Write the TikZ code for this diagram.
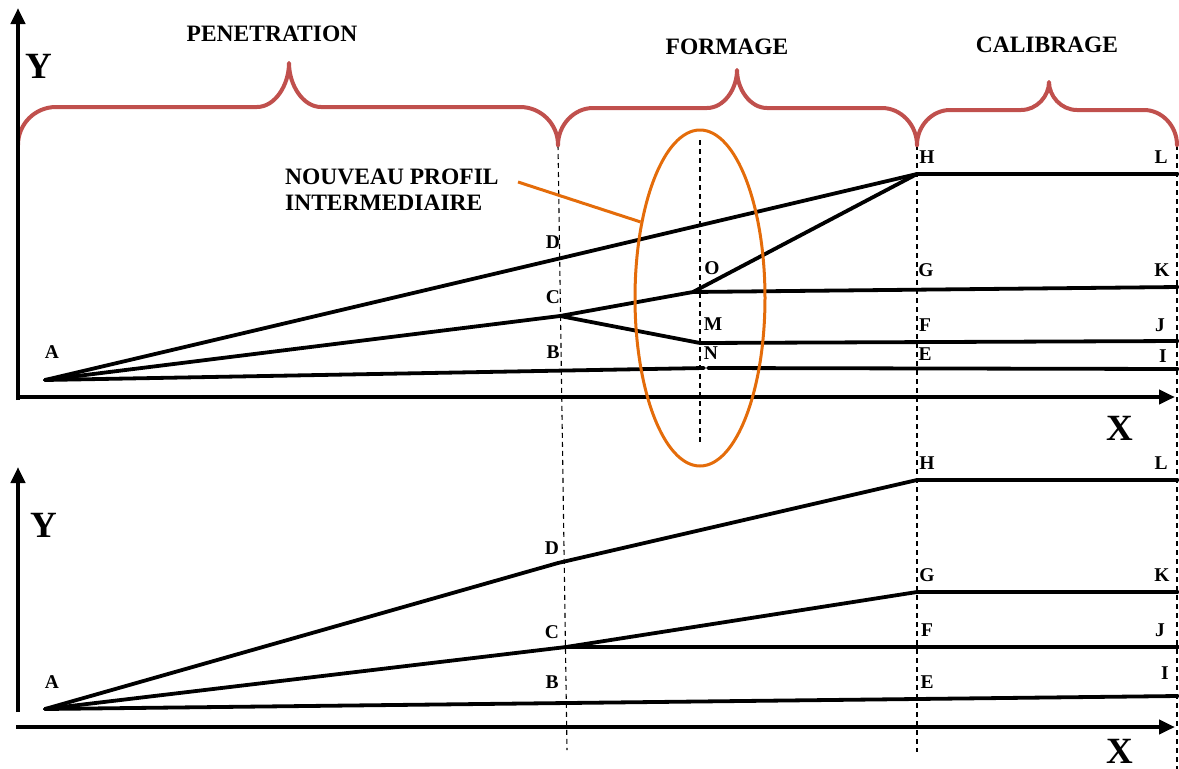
\documentclass[tikz,border=0pt]{standalone}
\usepackage{fontspec}
\setmainfont{Liberation Serif}
\usetikzlibrary{arrows.meta,shapes.geometric}
\definecolor{bracered}{RGB}{192,80,77}
\definecolor{ringorange}{RGB}{228,108,10}
\begin{document}
\begin{tikzpicture}[x=1pt,y=-1pt,
  prof/.style={line width=3.8pt, line join=round, line cap=round},
  axis/.style={line width=4.5pt, -{Triangle[length=16pt,width=14pt]}},
  guide/.style={line width=1.1pt, dash pattern=on 5pt off 4pt},
  brace/.style={line width=4pt, draw=bracered, line cap=round, line join=round},
  ptlab/.style={font=\bfseries\fontsize{19.5}{21}\selectfont, inner sep=0pt},
  ttl/.style={font=\bfseries\fontsize{23.5}{26}\selectfont, inner sep=0pt},
  axlab/.style={font=\bfseries\fontsize{37}{40}\selectfont, inner sep=0pt}]
\useasboundingbox (0,0) rectangle (1179,769);

% ---------- dashed guides ----------
\coordinate (g1t) at (558,145); \coordinate (g1b) at (567,750);
\coordinate (g2t) at (917,145); \coordinate (g2b) at (917,752);
\coordinate (g3t) at (1177,145); \coordinate (g3b) at (1177,769);
\coordinate (g4t) at (700,140); \coordinate (g4b) at (700,442);
\draw[guide] (g1t) -- (g1b);
\draw[guide] (g2t) -- (g2b);
\draw[guide] (g3t) -- (g3b);
\draw[guide] (g4t) -- (g4b);

% ---------- braces ----------
\draw[brace] (18,145) .. controls (18,124) and (35,107) .. (56,107)
  -- (257,107) .. controls (275,107) and (289,85) .. (289,63)
  .. controls (289,85) and (303,107) .. (321,107)
  -- (520,107) .. controls (541,107) and (558,124) .. (558,145);
\draw[brace] (558,145) .. controls (558,125) and (574,108) .. (593,108)
  -- (707,108) .. controls (724,108) and (737,89) .. (737,70)
  .. controls (737,89) and (750,108) .. (767,108)
  -- (882,108) .. controls (901,108) and (917,125) .. (917,145);
\draw[brace] (917,145) .. controls (917,126) and (932,110) .. (950,110)
  -- (1021,110) .. controls (1037,110) and (1049,96) .. (1049,82)
  .. controls (1049,96) and (1061,110) .. (1077,110)
  -- (1144,110) .. controls (1162,110) and (1177,126) .. (1177,145);

\node[ttl] (tpen) at (272,34) {PENETRATION};
\node[ttl] (tfor) at (727,47) {FORMAGE};
\node[ttl] (tcal) at (1047,45) {CALIBRAGE};

% ---------- top panel ----------
\coordinate (ya1) at (18,400); \coordinate (yb1) at (18,8);
\coordinate (xa1) at (16,397); \coordinate (xb1) at (1175,397);
\draw[axis] (ya1) -- (yb1);
\draw[axis] (xa1) -- (xb1);
\node[axlab] (Y1) at (39,66) {Y};
\node[axlab] (X1) at (1120,428) {X};

\coordinate (A1) at (45,380);
\coordinate (H1) at (917,174);
\coordinate (L1) at (1178,174);
\coordinate (C1) at (560,316);
\coordinate (O1) at (693,292);
\coordinate (K1) at (1178,287);
\coordinate (N1) at (700,343);
\coordinate (J1) at (1178,341);
\coordinate (Nb1) at (704,368);
\coordinate (Na1) at (708,368);
\coordinate (I1) at (1178,369);

\draw[prof] (A1) -- (H1) -- (L1);
\draw[prof] (A1) -- (C1) -- (O1) -- (H1);
\draw[prof] (O1) -- (K1);
\draw[prof] (C1) -- (N1) -- (J1);
\draw[prof] (A1) -- (Nb1);
\draw[prof] (Na1) -- (I1);

\node[ptlab] (lA1) at (52,352) {A};
\node[ptlab] (lD1) at (553,242) {D};
\node[ptlab] (lC1) at (553,297) {C};
\node[ptlab] (lB1) at (553,352) {B};
\node[ptlab] (lO1) at (712,268) {O};
\node[ptlab] (lM1) at (713,324) {M};
\node[ptlab] (lN1) at (711,353) {N};
\node[ptlab] (lH1) at (927,157) {H};
\node[ptlab] (lL1) at (1161,157) {L};
\node[ptlab] (lG1) at (926,270) {G};
\node[ptlab] (lK1) at (1162,270) {K};
\node[ptlab] (lF1) at (925,325) {F};
\node[ptlab] (lJ1) at (1160,325) {J};
\node[ptlab] (lE1) at (925,354) {E};
\node[ptlab] (lI1) at (1163,356) {I};

% ---------- ellipse & callout ----------
\node[draw=ringorange, line width=3pt, ellipse, minimum width=130pt, minimum height=336pt, inner sep=0pt] (ring) at (700,298) {};
\node[ttl, anchor=west, align=left] (nouv) at (285,190) {NOUVEAU PROFIL\\INTERMEDIAIRE};
\coordinate (cal) at (518,182);
\draw[ringorange, line width=3pt] (cal) -- (ring.128);

% ---------- bottom panel ----------
\coordinate (ya2) at (18,712); \coordinate (yb2) at (18,467);
\coordinate (xa2) at (16,727); \coordinate (xb2) at (1175,727);
\draw[axis] (ya2) -- (yb2);
\draw[axis] (xa2) -- (xb2);
\node[axlab] (Y2) at (44,525) {Y};
\node[axlab, anchor=base] (X2) at (1120,763) {X};

\coordinate (A2) at (45,709);
\coordinate (D2) at (558,563);
\coordinate (H2) at (917,480);
\coordinate (L2) at (1178,480);
\coordinate (C2) at (566,647);
\coordinate (G2) at (917,592);
\coordinate (K2) at (1178,592);
\coordinate (J2) at (1178,647);
\coordinate (I2) at (1178,696);

\draw[prof] (A2) -- (D2) -- (H2) -- (L2);
\draw[prof] (A2) -- (C2) -- (G2) -- (K2);
\draw[prof] (C2) -- (J2);
\draw[prof] (A2) -- (I2);

\node[ptlab] (lA2) at (52,682) {A};
\node[ptlab] (lD2) at (552,548) {D};
\node[ptlab] (lC2) at (552,632) {C};
\node[ptlab] (lB2) at (552,682) {B};
\node[ptlab] (lH2) at (927,463) {H};
\node[ptlab] (lL2) at (1161,463) {L};
\node[ptlab] (lG2) at (927,575) {G};
\node[ptlab] (lK2) at (1162,575) {K};
\node[ptlab] (lF2) at (927,630) {F};
\node[ptlab] (lJ2) at (1160,630) {J};
\node[ptlab] (lE2) at (927,682) {E};
\node[ptlab] (lI2) at (1165,673) {I};
\end{tikzpicture}
\end{document}
